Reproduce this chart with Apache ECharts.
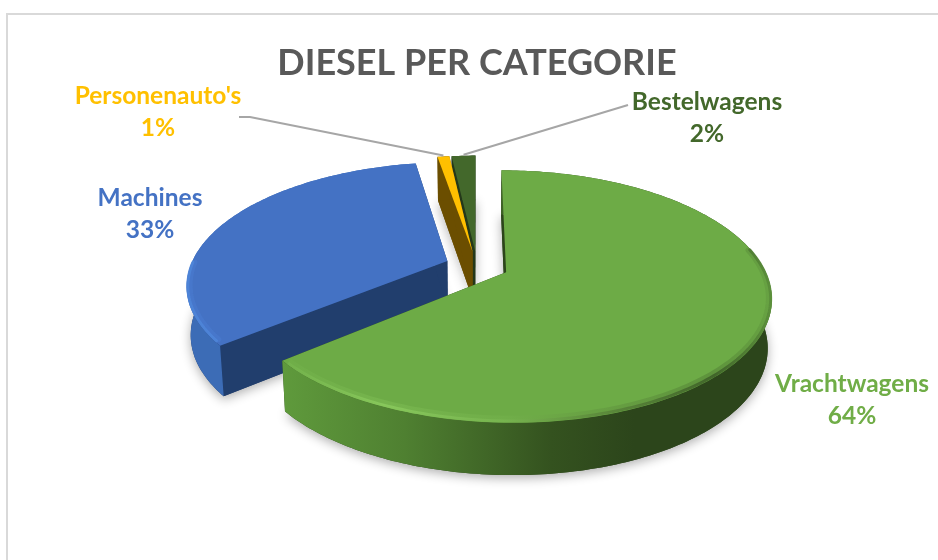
<!DOCTYPE html>
<html>
<head>
<meta charset="utf-8">
<style>
	html, body { margin: 0; padding: 0; background: #fff; }
	#chart { width: 938px; height: 560px; }
</style>
<script src="https://cdn.jsdelivr.net/npm/echarts@6/dist/echarts.min.js"></script>
</head>
<body>
<div id="chart"></div>
<script>
var categories = ['Vrachtwagens', 'Machines', "Personenauto's", 'Bestelwagens'];
var values = [64, 33.3, 0.9, 1.8];

var topColors = ['#6dab46', '#4472c4', '#ffc000', '#43682b'];
var labelColors = ['#70ad47', '#4472c4', '#ffc000', '#43682b'];
var innerColors = ['#2c451b', '#213e6d', '#6b4e00', '#24381a'];
var labelPos = [[852, 400], [150, 214], [158, 112], [707, 118]];
var leaders = [null, null, [[239, 117], [250, 117]], [[628, 105]]];
var rimCos = [0.2, 0];

// projection of the tilted disc
var cx = 477, cy = 266, R = 257, S = 119.2, persp = 0.19, explode = 0.124;
var RAD = Math.PI / 180;

function project(u, v, z) {
	var w = 1 + persp * v;
	return [
		cx + R * u / w * (1 - 0.014 * z),
		cy - S * v / w + z * (48 - 4 * v)
	];
}

var total = 0;
values.forEach(function(v) { total += v; });

var seriesData = [];
var cumul = 0;
for (var i = 0; i < values.length; i++) {
	seriesData.push({ name: categories[i], value: [values[i], cumul] });
	cumul += values[i];
}

function wallFill(i) {
	if (i === 0) {
		return new echarts.graphic.LinearGradient(0, 0, 1, 0, [
			{ offset: 0, color: '#5f9a3c' },
			{ offset: 0.25, color: '#4f8031' },
			{ offset: 0.55, color: '#34521f' },
			{ offset: 0.72, color: '#2c451b' },
			{ offset: 1, color: '#2c451b' }
		]);
	}
	if (i === 1) return '#3c6cb6';
	return innerColors[i];
}

function rimStroke(i) {
	if (i === 0) {
		return new echarts.graphic.LinearGradient(0, 0, 1, 0, [
			{ offset: 0, color: '#74b34c' },
			{ offset: 0.2, color: '#8bcb5e' },
			{ offset: 0.45, color: '#78b550' },
			{ offset: 0.68, color: '#557f37' },
			{ offset: 0.88, color: '#3b5c26' },
			{ offset: 1, color: '#5a8e3a' }
		]);
	}
	return '#4f86d9';
}

function renderSlice(params, api) {
	var i = params.dataIndex;
	var a0 = api.value(1) / total * 360;
	var a1 = a0 + api.value(0) / total * 360;
	var mid = (a0 + a1) / 2 * RAD;
	var ou = explode * Math.sin(mid);
	var ov = explode * Math.cos(mid);
	var base = (values.length - i) * 10;

	var top = [], bottom = [], rimWide = [], rimThin = [];
	var steps = Math.max(4, Math.ceil(a1 - a0));
	for (var s = 0; s <= steps; s++) {
		var a = (a0 + (a1 - a0) * s / steps) * RAD;
		var sa = Math.sin(a), ca = Math.cos(a);
		top.push(project(ou + sa, ov + ca, 0));
		bottom.push(project(ou + sa, ov + ca, 1));
		if (i < rimCos.length && ca < rimCos[i] && s > 1 && s < steps - 1) {
			rimWide.push(project(ou + sa * 0.988, ov + ca * 0.975, 0));
			rimThin.push(project(ou + sa * 0.996, ov + ca * 0.99, 0));
		}
	}
	var apexTop = project(ou, ov, 0);
	var apexBottom = project(ou, ov, 1);

	var children = [
		{ // bottom, only there for the soft shadow
			type: 'polygon', z2: base,
			shape: { points: [apexBottom].concat(bottom) },
			style: { fill: innerColors[i], shadowBlur: 11, shadowOffsetY: 3, shadowColor: 'rgba(0,0,0,0.32)' }
		},
		{
			type: 'polygon', z2: base + 1,
			shape: { points: [top[0], apexTop, apexBottom, bottom[0]] },
			style: { fill: innerColors[i] }
		},
		{
			type: 'polygon', z2: base + 1,
			shape: { points: [top[steps], apexTop, apexBottom, bottom[steps]] },
			style: { fill: innerColors[i] }
		},
		{
			type: 'polygon', z2: base + 2,
			shape: { points: top.concat(bottom.slice().reverse()) },
			style: { fill: wallFill(i) }
		},
		{
			type: 'polygon', z2: base + 3,
			shape: { points: [apexTop].concat(top) },
			style: { fill: topColors[i] }
		}
	];
	if (rimWide.length > 1) {
		children.push({
			type: 'polyline', z2: base + 4,
			shape: { points: rimWide },
			style: { fill: null, stroke: rimStroke(i), lineWidth: 5, opacity: 0.3, lineCap: 'round' }
		});
		children.push({
			type: 'polyline', z2: base + 5,
			shape: { points: rimThin },
			style: { fill: null, stroke: rimStroke(i), lineWidth: 3, opacity: 0.85, lineCap: 'round' }
		});
	}

	// leader line runs from the label to the back of the slice
	if (leaders[i]) {
		var end = project(ou + Math.sin(mid), ov + Math.cos(mid), 0);
		end[1] -= 1;
		children.push({
			type: 'polyline', z2: 90,
			shape: { points: leaders[i].concat([end]) },
			style: { fill: null, stroke: '#a6a6a6', lineWidth: 2 }
		});
	}

	children.push({
		type: 'text', z2: 100,
		style: {
			x: labelPos[i][0], y: labelPos[i][1],
			text: categories[i] + '\n' + Math.round(api.value(0) / total * 100) + '%',
			fill: labelColors[i],
			font: 'bold 24.5px Lato',
			lineHeight: 32,
			align: 'center',
			verticalAlign: 'middle'
		}
	});

	return { type: 'group', children: children };
}

var myChart = echarts.init(document.getElementById('chart'));
var option = {
	backgroundColor: '#ffffff',
	animation: false,
	title: {
		text: 'DIESEL PER CATEGORIE',
		left: 472,
		top: 40,
		textAlign: 'center',
		textStyle: {
			color: '#595959',
			fontFamily: 'Lato',
			fontWeight: 'bold',
			fontSize: 36
		}
	},
	graphic: [{
		type: 'rect',
		silent: true,
		shape: { x: 7, y: 14, width: 1000, height: 600 },
		style: { fill: null, stroke: '#d9d9d9', lineWidth: 2 }
	}],
	series: [{
		type: 'custom',
		coordinateSystem: 'none',
		silent: true,
		renderItem: renderSlice,
		data: seriesData
	}]
};
myChart.setOption(option);
</script>
</body>
</html>
